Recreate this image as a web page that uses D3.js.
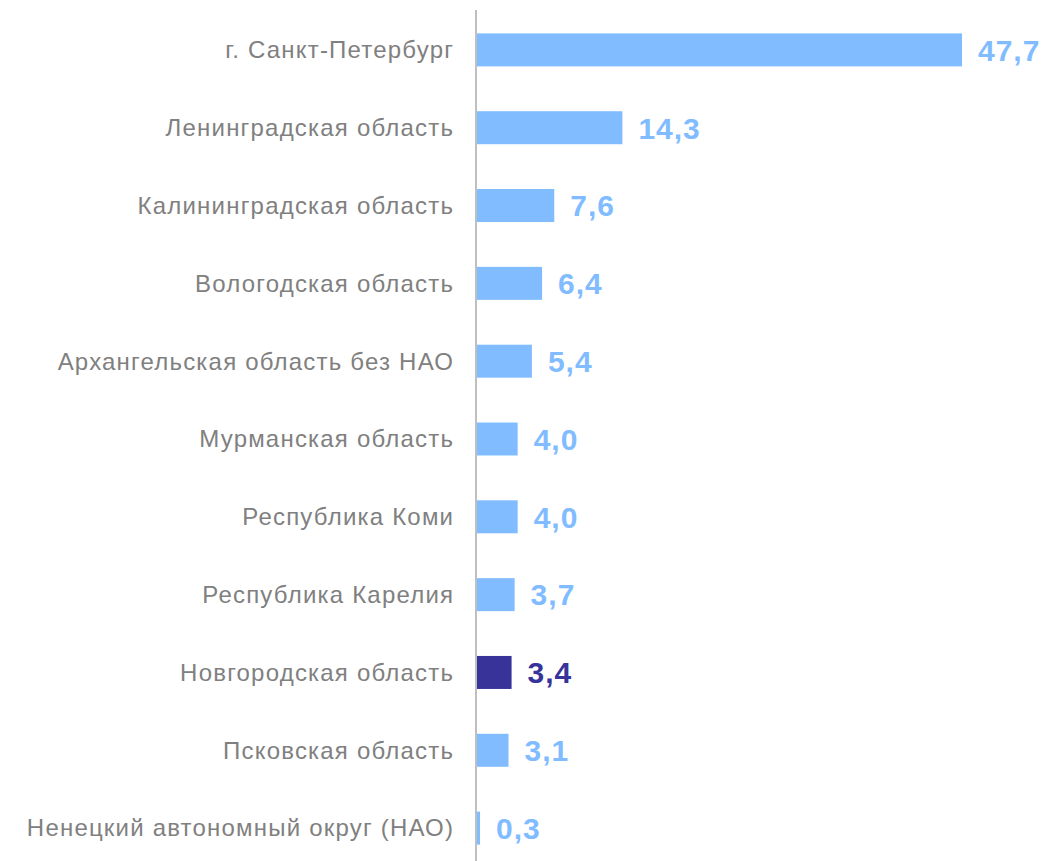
<!DOCTYPE html>
<html>
<head>
<meta charset="utf-8">
<script src="https://cdn.jsdelivr.net/npm/d3@7"></script>
<style>
  body { margin: 0; background: #fff; }
</style>
</head>
<body>
<div id="chart"></div>
<script>
const regions = [
    "г. Санкт-Петербург",
    "Ленинградская область",
    "Калининградская область",
    "Вологодская область",
    "Архангельская область без НАО",
    "Мурманская область",
    "Республика Коми",
    "Республика Карелия",
    "Новгородская область",
    "Псковская область",
    "Ненецкий автономный округ (НАО)"
];
const values = [47.7, 14.3, 7.6, 6.4, 5.4, 4.0, 4.0, 3.7, 3.4, 3.1, 0.3];
const highlighted = "Новгородская область";

const width = 1043, height = 861;
const axisX = 477;

const data = regions.map((r, i) => ({ region: r, value: values[i] }));

const svg = d3.select("#chart").append("svg")
    .attr("width", width)
    .attr("height", height);

const x = d3.scaleLinear()
    .domain([0, 47.7])
    .range([axisX, 962]);

const y = d3.scaleBand()
    .domain(regions)
    .range([11, 867])
    .paddingInner(0.576)
    .paddingOuter(0.288);

const fmt = d3.formatLocale({ decimal: ",", thousands: " ", grouping: [3], currency: ["", ""] }).format(".1f");

const colorOf = d => d.region === highlighted ? "#373399" : "#80bcff";

svg.selectAll(".bar")
    .data(data)
    .enter()
    .append("rect")
    .attr("class", "bar")
    .attr("x", x(0))
    .attr("y", d => y(d.region))
    .attr("width", d => x(d.value) - x(0))
    .attr("height", y.bandwidth())
    .attr("fill", colorOf);

// category labels
svg.selectAll(".cat")
    .data(data)
    .enter()
    .append("text")
    .attr("class", "cat")
    .attr("x", axisX - 24 + 1.2)
    .attr("y", d => y(d.region) + y.bandwidth() / 2)
    .attr("dy", "0.35em")
    .attr("text-anchor", "end")
    .style("font-family", "Arial, 'Liberation Sans', sans-serif")
    .style("font-size", "24px")
    .style("letter-spacing", "1.2px")
    .attr("fill", "#808080")
    .text(d => d.region);

// value labels
svg.selectAll(".val")
    .data(data)
    .enter()
    .append("text")
    .attr("class", "val")
    .attr("x", d => x(d.value) + 16)
    .attr("y", d => y(d.region) + y.bandwidth() / 2)
    .attr("dy", "0.36em")
    .style("font-family", "Arial, 'Liberation Sans', sans-serif")
    .style("font-size", "30px")
    .style("font-weight", "bold")
    .style("letter-spacing", "1px")
    .attr("fill", colorOf)
    .text(d => fmt(d.value));

// vertical axis line
svg.append("line")
    .attr("x1", axisX - 1)
    .attr("x2", axisX - 1)
    .attr("y1", 10)
    .attr("y2", height)
    .attr("stroke", "#bfbfbf")
    .attr("stroke-width", 2);
</script>
</body>
</html>
